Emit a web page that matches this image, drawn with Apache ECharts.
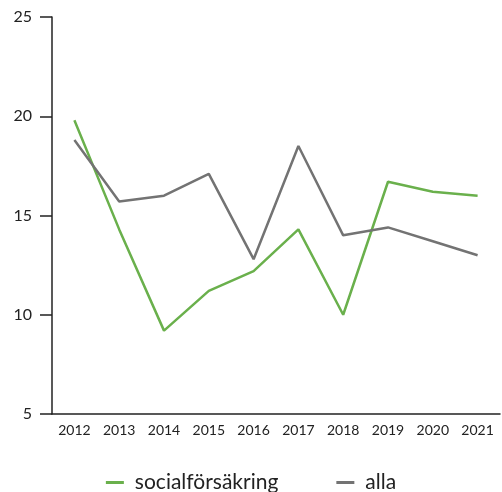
<!DOCTYPE html>
<html><head><meta charset="utf-8">
<script src="https://cdn.jsdelivr.net/npm/echarts@6/dist/echarts.min.js"></script>
<style>html,body{margin:0;padding:0;background:#fff}#c{width:502px;height:492px}</style>
</head><body><div id="c"></div>
<script>
const years = ['2012','2013','2014','2015','2016','2017','2018','2019','2020','2021'];
const socialforsakring = [19.8, 14.3, 9.2, 11.2, 12.2, 14.3, 10.0, 16.7, 16.2, 16.0];
const alla = [18.8, 15.7, 16.0, 17.1, 12.8, 18.5, 14.0, 14.4, 13.7, 13.0];
const yTicks = {min: 5, max: 25, interval: 5};

const font = 'Lato, "Open Sans", sans-serif';
const chart = echarts.init(document.getElementById('c'), null, {renderer: 'canvas'});
chart.setOption({
  animation: false,
  textStyle: {fontFamily: font},
  grid: {left: 52, right: 2, top: 17, bottom: 78, containLabel: false},
  legend: {
    top: 467, left: 'center', itemGap: 58, itemWidth: 18, itemHeight: 3, icon: 'rect',
    textStyle: {fontSize: 21, color: '#222', fontFamily: font, padding: [0, 0, 0, 6]},
    data: ['socialförsäkring', 'alla']
  },
  xAxis: {
    type: 'category', data: years, boundaryGap: true,
    axisLine: {lineStyle: {color: '#222', width: 1.5}},
    axisTick: {inside: true, length: 10, lineStyle: {color: '#222', width: 1.5}},
    axisLabel: {fontSize: 14, color: '#222', margin: 9, interval: 0},
    splitLine: {show: false}
  },
  yAxis: {
    type: 'value', min: yTicks.min, max: yTicks.max, interval: yTicks.interval,
    axisLine: {show: true, lineStyle: {color: '#222', width: 1.5}},
    axisTick: {show: true, length: 12, lineStyle: {color: '#222', width: 1.5}},
    axisLabel: {fontSize: 16, color: '#222', margin: 20},
    splitLine: {show: false}
  },
  series: [
    {name: 'socialförsäkring', type: 'line', data: socialforsakring, showSymbol: false, symbol: 'none',
     lineStyle: {color: '#6ab04c', width: 2.5}, itemStyle: {color: '#6ab04c'}},
    {name: 'alla', type: 'line', data: alla, showSymbol: false, symbol: 'none',
     lineStyle: {color: '#737373', width: 2.5}, itemStyle: {color: '#737373'}}
  ]
});
</script></body></html>
